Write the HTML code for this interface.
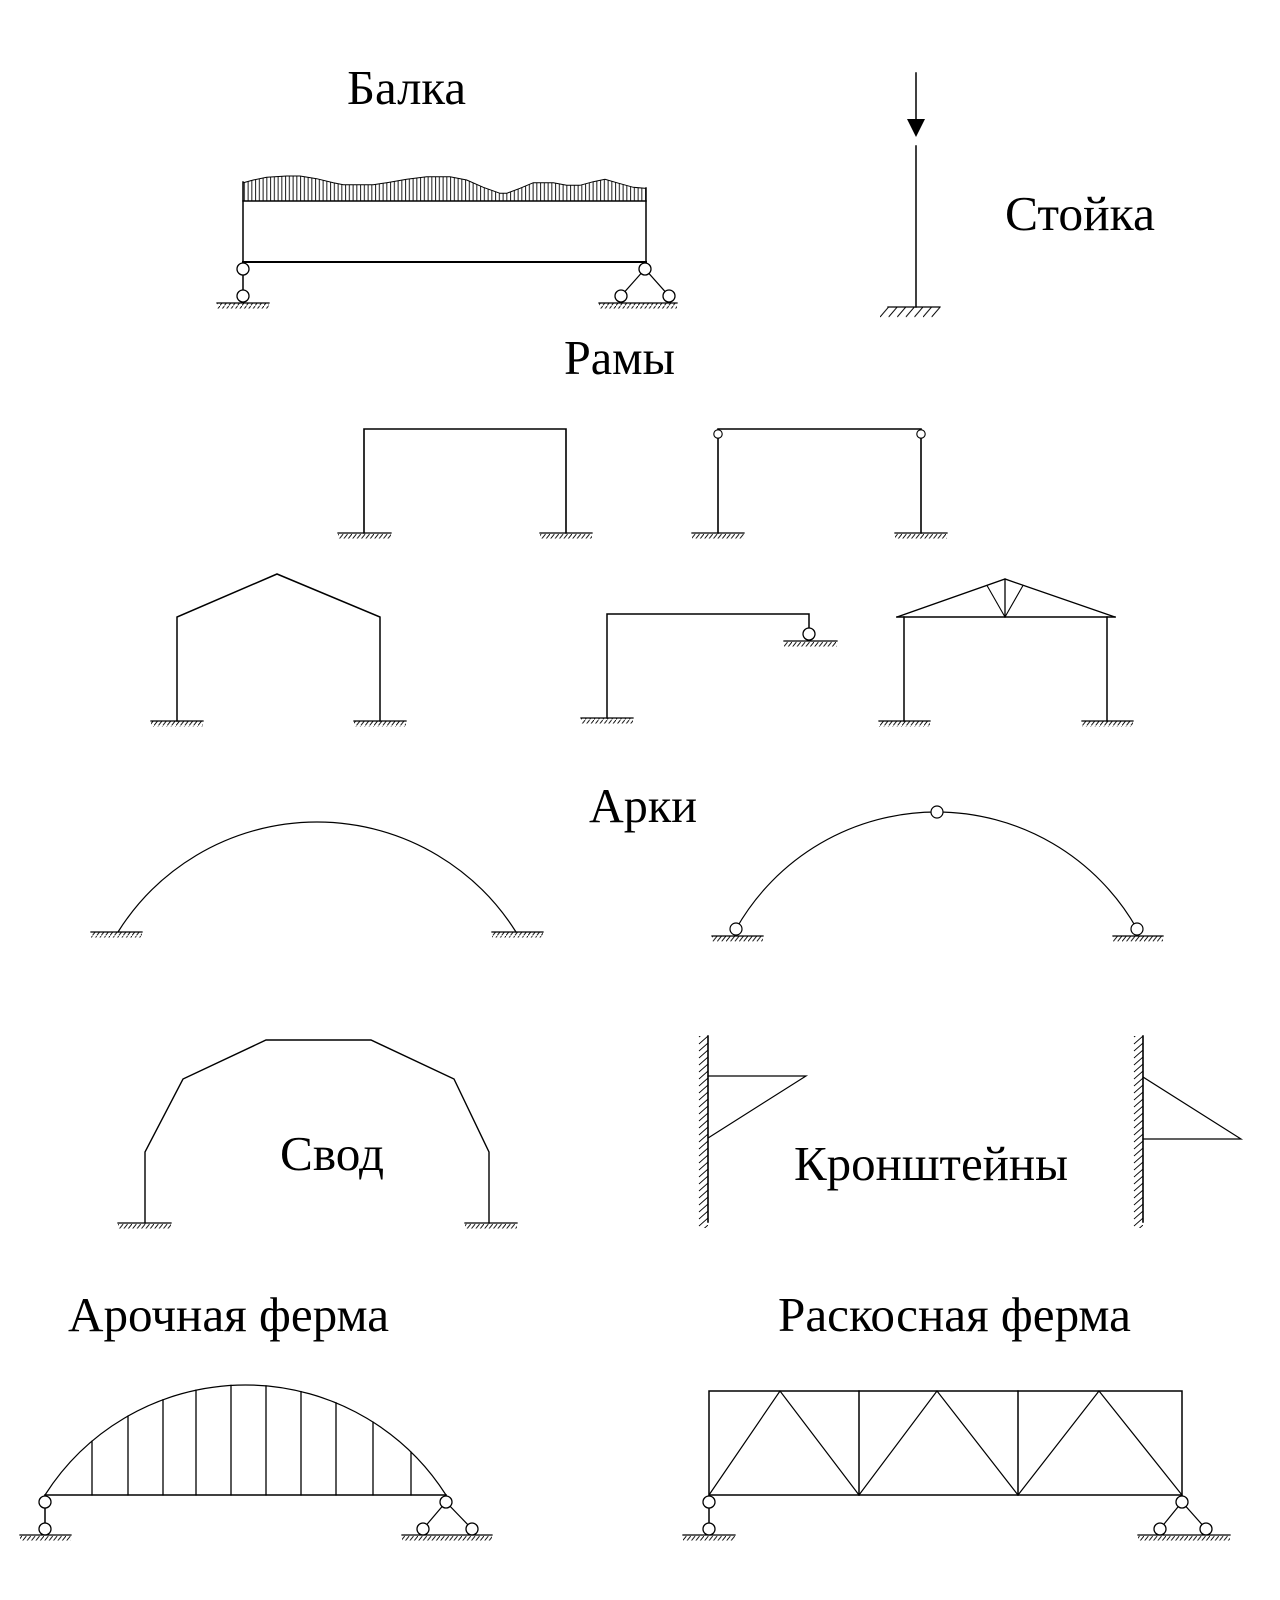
<!DOCTYPE html>
<html>
<head>
<meta charset="utf-8">
<style>
html,body{margin:0;padding:0;background:#fff;}
svg{display:block;}
text{font-family:"Liberation Serif","DejaVu Serif",serif;fill:#000;}
</style>
</head>
<body>
<svg width="1280" height="1600" viewBox="0 0 1280 1600" xmlns="http://www.w3.org/2000/svg">
<defs>
  <pattern id="g" patternUnits="userSpaceOnUse" width="4.4" height="6">
    <path d="M4.4,0 L0,5.5" stroke="#000" stroke-width="0.9" fill="none"/>
  </pattern>
  <pattern id="gb" patternUnits="userSpaceOnUse" x="880" y="307" width="8.6" height="11">
    <path d="M8.6,0 L0,10" stroke="#000" stroke-width="1" fill="none"/>
  </pattern>
  <pattern id="v" patternUnits="userSpaceOnUse" width="3.75" height="10">
    <path d="M0.6,0 V10" stroke="#000" stroke-width="0.9" fill="none"/>
  </pattern>
  <pattern id="w1" patternUnits="userSpaceOnUse" x="698" y="1036" width="10" height="7">
    <path d="M10,0 L1,8 M10,-7 L1,1" stroke="#000" stroke-width="0.9" fill="none"/>
  </pattern>
  <pattern id="w2" patternUnits="userSpaceOnUse" x="1133" y="1036" width="10" height="7">
    <path d="M10,0 L1,8 M10,-7 L1,1" stroke="#000" stroke-width="0.9" fill="none"/>
  </pattern>
</defs>

<g stroke="#000" fill="none" stroke-linecap="square">

<!-- ============ Балка ============ -->
<path d="M243,201 L243.3,182.7 253.3,180 266.7,177.3 286.7,176 300,176 316.7,178.7 333.3,182.7 343.3,184.7 373.3,184.7 386.7,182.7 406.7,179.3 426.7,176.7 450,176.7 466.7,180 483.3,187.3 500,193.3 506.7,193.3 520,188.3 533.3,182.7 553.3,182.7 566.7,185.3 580,185.3 593.3,181.7 605,179.3 616.7,182.7 633.3,187.3 645.7,188.3 L646,201 Z" fill="url(#v)" stroke="none"/>
<polyline points="243.3,182.7 253.3,180 266.7,177.3 286.7,176 300,176 316.7,178.7 333.3,182.7 343.3,184.7 373.3,184.7 386.7,182.7 406.7,179.3 426.7,176.7 450,176.7 466.7,180 483.3,187.3 500,193.3 506.7,193.3 520,188.3 533.3,182.7 553.3,182.7 566.7,185.3 580,185.3 593.3,181.7 605,179.3 616.7,182.7 633.3,187.3 645.7,188.3" stroke-width="1"/>
<line x1="243" y1="201" x2="646" y2="201" stroke-width="1.5"/>
<line x1="243" y1="182" x2="243" y2="262" stroke-width="1.5"/>
<line x1="646" y1="188" x2="646" y2="262" stroke-width="1.5"/>
<line x1="243" y1="262" x2="646" y2="262" stroke-width="2"/>
<!-- left support -->
<line x1="243" y1="275" x2="243" y2="290" stroke-width="1.5"/>
<circle cx="243" cy="269" r="6" fill="#fff" stroke-width="1.3"/>
<circle cx="243" cy="296" r="6" fill="#fff" stroke-width="1.3"/>
<line x1="217" y1="303" x2="269" y2="303" stroke-width="1.3"/>
<rect x="217" y="303.5" width="52" height="5" fill="url(#g)" stroke="none"/>
<!-- right support -->
<line x1="645" y1="269" x2="621" y2="296" stroke-width="1.2"/>
<line x1="645" y1="269" x2="669" y2="296" stroke-width="1.2"/>
<circle cx="645" cy="269" r="6" fill="#fff" stroke-width="1.3"/>
<circle cx="621" cy="296" r="6" fill="#fff" stroke-width="1.3"/>
<circle cx="669" cy="296" r="6" fill="#fff" stroke-width="1.3"/>
<line x1="599" y1="303" x2="677" y2="303" stroke-width="1.3"/>
<rect x="599" y="303.5" width="78" height="5" fill="url(#g)" stroke="none"/>

<!-- ============ Стойка ============ -->
<line x1="916" y1="73" x2="916" y2="120" stroke-width="1.5"/>
<polygon points="907,119 925,119 916,137" fill="#000" stroke="none"/>
<line x1="916" y1="146" x2="916" y2="307" stroke-width="1.5"/>
<line x1="888" y1="307" x2="940" y2="307" stroke-width="1.3"/>
<rect x="880" y="307.5" width="60" height="10" fill="url(#gb)" stroke="none"/>

<!-- ============ Рамы row 1 ============ -->
<!-- frame 1 -->
<polyline points="364,533 364,429 566,429 566,533" stroke-width="1.6"/>
<line x1="338" y1="533" x2="391" y2="533" stroke-width="1.3"/>
<rect x="338" y="533.5" width="53" height="5" fill="url(#g)" stroke="none"/>
<line x1="540" y1="533" x2="592" y2="533" stroke-width="1.3"/>
<rect x="540" y="533.5" width="52" height="5" fill="url(#g)" stroke="none"/>
<!-- frame 2 (hinged) -->
<line x1="718" y1="429" x2="921" y2="429" stroke-width="1.6"/>
<line x1="718" y1="438" x2="718" y2="533" stroke-width="1.6"/>
<line x1="921" y1="438" x2="921" y2="533" stroke-width="1.6"/>
<circle cx="718" cy="434" r="4.2" fill="#fff" stroke-width="1.1"/>
<circle cx="921" cy="434" r="4.2" fill="#fff" stroke-width="1.1"/>
<line x1="692" y1="533" x2="744" y2="533" stroke-width="1.3"/>
<rect x="692" y="533.5" width="52" height="5" fill="url(#g)" stroke="none"/>
<line x1="895" y1="533" x2="947" y2="533" stroke-width="1.3"/>
<rect x="895" y="533.5" width="52" height="5" fill="url(#g)" stroke="none"/>

<!-- ============ Рамы row 2 ============ -->
<!-- gable frame -->
<polyline points="177,721 177,617 277,574 380,617 380,721" stroke-width="1.5"/>
<line x1="151" y1="721" x2="203" y2="721" stroke-width="1.3"/>
<rect x="151" y="721.5" width="52" height="5" fill="url(#g)" stroke="none"/>
<line x1="354" y1="721" x2="406" y2="721" stroke-width="1.3"/>
<rect x="354" y="721.5" width="52" height="5" fill="url(#g)" stroke="none"/>
<!-- roller frame -->
<polyline points="607,718 607,614 809,614 809,628" stroke-width="1.5"/>
<circle cx="809" cy="634" r="6" fill="#fff" stroke-width="1.3"/>
<line x1="784" y1="641" x2="837" y2="641" stroke-width="1.3"/>
<rect x="784" y="641.5" width="53" height="5" fill="url(#g)" stroke="none"/>
<line x1="581" y1="718" x2="633" y2="718" stroke-width="1.3"/>
<rect x="581" y="718.5" width="52" height="5" fill="url(#g)" stroke="none"/>
<!-- truss frame -->
<line x1="897" y1="617" x2="1115" y2="617" stroke-width="1.6"/>
<polyline points="897,617 1005,579 1115,617" stroke-width="1.3"/>
<line x1="1005" y1="579" x2="1005" y2="617" stroke-width="1.3"/>
<line x1="1005" y1="617" x2="987" y2="585.5" stroke-width="1.1"/>
<line x1="1005" y1="617" x2="1023" y2="585.5" stroke-width="1.1"/>
<line x1="904" y1="617" x2="904" y2="721" stroke-width="1.5"/>
<line x1="1107" y1="617" x2="1107" y2="721" stroke-width="1.5"/>
<line x1="879" y1="721" x2="930" y2="721" stroke-width="1.3"/>
<rect x="879" y="721.5" width="51" height="5" fill="url(#g)" stroke="none"/>
<line x1="1082" y1="721" x2="1133" y2="721" stroke-width="1.3"/>
<rect x="1082" y="721.5" width="51" height="5" fill="url(#g)" stroke="none"/>

<!-- ============ Арки ============ -->
<path d="M118,932 A235,235 0 0 1 516,932" stroke-width="1.2"/>
<line x1="91" y1="932" x2="142" y2="932" stroke-width="1.3"/>
<rect x="91" y="932.5" width="51" height="5" fill="url(#g)" stroke="none"/>
<line x1="492" y1="932" x2="543" y2="932" stroke-width="1.3"/>
<rect x="492" y="932.5" width="51" height="5" fill="url(#g)" stroke="none"/>

<path d="M736,929 A230.3,230.3 0 0 1 1137,929" stroke-width="1.2"/>
<circle cx="937" cy="812" r="6" fill="#fff" stroke-width="1.2"/>
<circle cx="736" cy="929" r="6" fill="#fff" stroke-width="1.2"/>
<circle cx="1137" cy="929" r="6" fill="#fff" stroke-width="1.2"/>
<line x1="712" y1="936" x2="763" y2="936" stroke-width="1.3"/>
<rect x="712" y="936.5" width="51" height="5" fill="url(#g)" stroke="none"/>
<line x1="1113" y1="936" x2="1163" y2="936" stroke-width="1.3"/>
<rect x="1113" y="936.5" width="50" height="5" fill="url(#g)" stroke="none"/>

<!-- ============ Свод ============ -->
<polyline points="145,1223 145,1152 183,1079 266,1040 371,1040 454,1079 489,1152 489,1223" stroke-width="1.4"/>
<line x1="118" y1="1223" x2="171" y2="1223" stroke-width="1.3"/>
<rect x="118" y="1223.5" width="53" height="5" fill="url(#g)" stroke="none"/>
<line x1="465" y1="1223" x2="517" y2="1223" stroke-width="1.3"/>
<rect x="465" y="1223.5" width="52" height="5" fill="url(#g)" stroke="none"/>

<!-- ============ Кронштейны ============ -->
<line x1="708" y1="1036" x2="708" y2="1222" stroke-width="1.6"/>
<rect x="698" y="1036" width="10" height="192" fill="url(#w1)" stroke="none"/>
<polyline points="708,1076 806,1076 708,1138" stroke-width="1.2"/>

<line x1="1143" y1="1036" x2="1143" y2="1222" stroke-width="1.6"/>
<rect x="1133" y="1036" width="10" height="192" fill="url(#w2)" stroke="none"/>
<polyline points="1143,1077 1241,1139 1143,1139" stroke-width="1.2"/>

<!-- ============ Арочная ферма ============ -->
<path d="M45,1495 A237.7,237.7 0 0 1 446,1495" stroke-width="1.2"/>
<line x1="45" y1="1495" x2="446" y2="1495" stroke-width="1.6"/>
<g stroke-width="1.3">
<line x1="92" y1="1495" x2="92" y2="1441.2"/>
<line x1="128" y1="1495" x2="128" y2="1416.1"/>
<line x1="163" y1="1495" x2="163" y2="1399.8"/>
<line x1="196" y1="1495" x2="196" y2="1390.2"/>
<line x1="231" y1="1495" x2="231" y2="1385.4"/>
<line x1="266" y1="1495" x2="266" y2="1385.9"/>
<line x1="301" y1="1495" x2="301" y2="1391.6"/>
<line x1="336" y1="1495" x2="336" y2="1402.9"/>
<line x1="373" y1="1495" x2="373" y2="1422.1"/>
<line x1="411" y1="1495" x2="411" y2="1452.1"/>
</g>
<!-- supports -->
<line x1="45" y1="1508" x2="45" y2="1523" stroke-width="1.5"/>
<circle cx="45" cy="1502" r="6" fill="#fff" stroke-width="1.3"/>
<circle cx="45" cy="1529" r="6" fill="#fff" stroke-width="1.3"/>
<line x1="20" y1="1535" x2="71" y2="1535" stroke-width="1.3"/>
<rect x="20" y="1535.5" width="51" height="5" fill="url(#g)" stroke="none"/>
<line x1="446" y1="1502" x2="423" y2="1529" stroke-width="1.2"/>
<line x1="446" y1="1502" x2="472" y2="1529" stroke-width="1.2"/>
<circle cx="446" cy="1502" r="6" fill="#fff" stroke-width="1.3"/>
<circle cx="423" cy="1529" r="6" fill="#fff" stroke-width="1.3"/>
<circle cx="472" cy="1529" r="6" fill="#fff" stroke-width="1.3"/>
<line x1="402" y1="1535" x2="492" y2="1535" stroke-width="1.3"/>
<rect x="402" y="1535.5" width="90" height="5" fill="url(#g)" stroke="none"/>

<!-- ============ Раскосная ферма ============ -->
<rect x="709" y="1391" width="473" height="104" stroke-width="1.5"/>
<line x1="859" y1="1391" x2="859" y2="1495" stroke-width="1.5"/>
<line x1="1018" y1="1391" x2="1018" y2="1495" stroke-width="1.5"/>
<polyline points="709,1495 780,1391 859,1495 937,1391 1018,1495 1099,1391 1182,1495" stroke-width="1.2"/>
<!-- supports -->
<line x1="709" y1="1508" x2="709" y2="1523" stroke-width="1.5"/>
<circle cx="709" cy="1502" r="6" fill="#fff" stroke-width="1.3"/>
<circle cx="709" cy="1529" r="6" fill="#fff" stroke-width="1.3"/>
<line x1="683" y1="1535" x2="735" y2="1535" stroke-width="1.3"/>
<rect x="683" y="1535.5" width="52" height="5" fill="url(#g)" stroke="none"/>
<line x1="1182" y1="1502" x2="1160" y2="1529" stroke-width="1.2"/>
<line x1="1182" y1="1502" x2="1206" y2="1529" stroke-width="1.2"/>
<circle cx="1182" cy="1502" r="6" fill="#fff" stroke-width="1.3"/>
<circle cx="1160" cy="1529" r="6" fill="#fff" stroke-width="1.3"/>
<circle cx="1206" cy="1529" r="6" fill="#fff" stroke-width="1.3"/>
<line x1="1138" y1="1535" x2="1230" y2="1535" stroke-width="1.3"/>
<rect x="1138" y="1535.5" width="92" height="5" fill="url(#g)" stroke="none"/>

</g>

<!-- ============ Labels ============ -->
<g font-size="49">
<text x="347" y="104" textLength="119" lengthAdjust="spacingAndGlyphs">Балка</text>
<text x="1005" y="230" textLength="150" lengthAdjust="spacingAndGlyphs">Стойка</text>
<text x="564" y="374" textLength="111" lengthAdjust="spacingAndGlyphs">Рамы</text>
<text x="589" y="822" textLength="108" lengthAdjust="spacingAndGlyphs">Арки</text>
<text x="280" y="1170" textLength="104" lengthAdjust="spacingAndGlyphs">Свод</text>
<text x="794" y="1180" textLength="274" lengthAdjust="spacingAndGlyphs">Кронштейны</text>
<text x="68" y="1331" textLength="321" lengthAdjust="spacingAndGlyphs">Арочная ферма</text>
<text x="778" y="1331" textLength="353" lengthAdjust="spacingAndGlyphs">Раскосная ферма</text>
</g>
</svg>
</body>
</html>
